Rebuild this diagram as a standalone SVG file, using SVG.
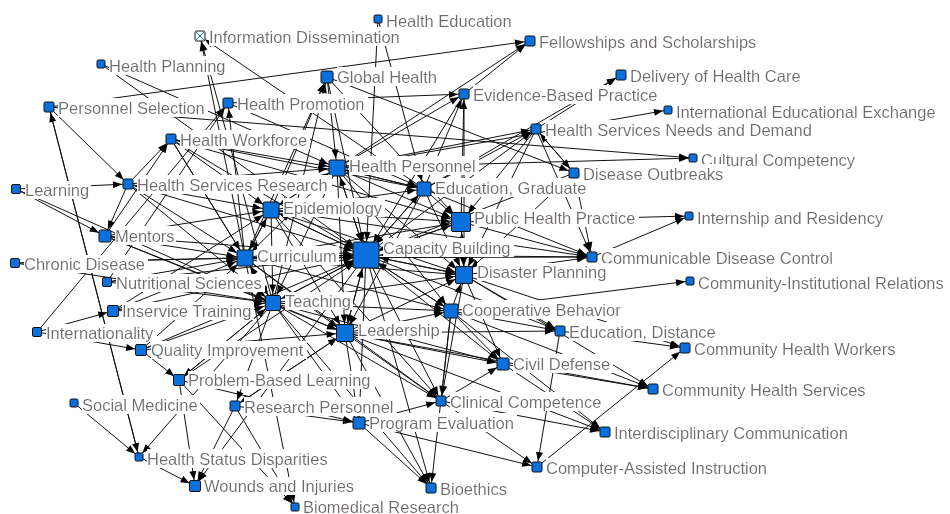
<svg xmlns="http://www.w3.org/2000/svg" width="950" height="514" viewBox="0 0 950 514">
<style>
.bg{fill:#fff}
#edges line{stroke:#111;stroke-width:1;fill:none}
.a8{marker-end:url(#a8)}.a10{marker-end:url(#a10)}.a12{marker-end:url(#a12)}.a14{marker-end:url(#a14)}.a16{marker-end:url(#a16)}.a20{marker-end:url(#a20)}.a26{marker-end:url(#a26)}
.n rect{fill:#0a70dc;stroke:#111;stroke-width:1}
.n text{font-family:"Liberation Sans",Arial,sans-serif;font-size:16.5px;fill:#6f6a6c;filter:url(#lbg)}
</style>
<defs>
<filter id="lbg" x="0" y="0" width="1.02" height="1"><feFlood flood-color="#fff"/><feComposite in="SourceGraphic" operator="over"/></filter>
<marker id="a8" markerUnits="userSpaceOnUse" markerWidth="10" markerHeight="8" refX="14" refY="3.5" orient="auto" style="overflow:visible"><path d="M0,0L9,3.5L0,7z" fill="#000"/></marker>
<marker id="a10" markerUnits="userSpaceOnUse" markerWidth="10" markerHeight="8" refX="15" refY="3.5" orient="auto" style="overflow:visible"><path d="M0,0L9,3.5L0,7z" fill="#000"/></marker>
<marker id="a12" markerUnits="userSpaceOnUse" markerWidth="10" markerHeight="8" refX="16" refY="3.5" orient="auto" style="overflow:visible"><path d="M0,0L9,3.5L0,7z" fill="#000"/></marker>
<marker id="a14" markerUnits="userSpaceOnUse" markerWidth="10" markerHeight="8" refX="17" refY="3.5" orient="auto" style="overflow:visible"><path d="M0,0L9,3.5L0,7z" fill="#000"/></marker>
<marker id="a16" markerUnits="userSpaceOnUse" markerWidth="10" markerHeight="8" refX="18.5" refY="3.5" orient="auto" style="overflow:visible"><path d="M0,0L9,3.5L0,7z" fill="#000"/></marker>
<marker id="a20" markerUnits="userSpaceOnUse" markerWidth="10" markerHeight="8" refX="20" refY="3.5" orient="auto" style="overflow:visible"><path d="M0,0L9,3.5L0,7z" fill="#000"/></marker>
<marker id="a26" markerUnits="userSpaceOnUse" markerWidth="10" markerHeight="8" refX="23" refY="3.5" orient="auto" style="overflow:visible"><path d="M0,0L9,3.5L0,7z" fill="#000"/></marker>
</defs>
<rect class="bg" x="0" y="0" width="950" height="514"/>
<g id="edges">
<line x1="49" y1="107" x2="530" y2="41" class="a10"/>
<line x1="49" y1="107" x2="128" y2="184" class="a10"/>
<line x1="49" y1="107" x2="139" y2="457" class="a8"/>
<line x1="139" y1="457" x2="49" y2="107" class="a10"/>
<line x1="49" y1="107" x2="693" y2="158" class="a8"/>
<line x1="101" y1="64" x2="337" y2="168" class="a16"/>
<line x1="101" y1="64" x2="366" y2="255" class="a26"/>
<line x1="16" y1="189" x2="128" y2="184" class="a10"/>
<line x1="16" y1="189" x2="105" y2="236" class="a12"/>
<line x1="16" y1="189" x2="273" y2="303" class="a16"/>
<line x1="128" y1="184" x2="171" y2="139" class="a10"/>
<line x1="105" y1="236" x2="171" y2="139" class="a10"/>
<line x1="128" y1="184" x2="105" y2="236" class="a12"/>
<line x1="245" y1="258" x2="200" y2="36" class="a10"/>
<line x1="273" y1="303" x2="200" y2="36" class="a10"/>
<line x1="424" y1="189" x2="200" y2="36" class="a10"/>
<line x1="378" y1="19" x2="366" y2="255" class="a26"/>
<line x1="378" y1="19" x2="424" y2="189" class="a14"/>
<line x1="107" y1="282" x2="228" y2="103" class="a10"/>
<line x1="245" y1="258" x2="228" y2="103" class="a10"/>
<line x1="228" y1="103" x2="464" y2="94" class="a10"/>
<line x1="228" y1="103" x2="424" y2="189" class="a14"/>
<line x1="327" y1="77" x2="574" y2="173" class="a10"/>
<line x1="271" y1="210" x2="327" y2="77" class="a12"/>
<line x1="245" y1="258" x2="327" y2="77" class="a12"/>
<line x1="273" y1="303" x2="327" y2="77" class="a12"/>
<line x1="171" y1="139" x2="337" y2="168" class="a16"/>
<line x1="171" y1="139" x2="424" y2="189" class="a14"/>
<line x1="171" y1="139" x2="366" y2="255" class="a26"/>
<line x1="171" y1="139" x2="461" y2="222" class="a20"/>
<line x1="337" y1="168" x2="693" y2="158" class="a8"/>
<line x1="337" y1="168" x2="668" y2="110" class="a8"/>
<line x1="536" y1="129" x2="621" y2="75" class="a10"/>
<line x1="424" y1="189" x2="621" y2="75" class="a10"/>
<line x1="464" y1="94" x2="530" y2="41" class="a10"/>
<line x1="337" y1="168" x2="530" y2="41" class="a10"/>
<line x1="337" y1="168" x2="464" y2="94" class="a10"/>
<line x1="424" y1="189" x2="464" y2="94" class="a10"/>
<line x1="461" y1="222" x2="464" y2="94" class="a10"/>
<line x1="337" y1="168" x2="536" y2="129" class="a10"/>
<line x1="424" y1="189" x2="536" y2="129" class="a10"/>
<line x1="366" y1="255" x2="536" y2="129" class="a10"/>
<line x1="536" y1="129" x2="574" y2="173" class="a10"/>
<line x1="574" y1="173" x2="536" y2="129" class="a10"/>
<line x1="536" y1="129" x2="592" y2="257" class="a10"/>
<line x1="574" y1="173" x2="592" y2="257" class="a10"/>
<line x1="424" y1="189" x2="592" y2="257" class="a10"/>
<line x1="271" y1="210" x2="592" y2="257" class="a10"/>
<line x1="245" y1="258" x2="592" y2="257" class="a10"/>
<line x1="461" y1="222" x2="592" y2="257" class="a10"/>
<line x1="464" y1="275" x2="592" y2="257" class="a10"/>
<line x1="461" y1="222" x2="689" y2="216" class="a8"/>
<line x1="592" y1="257" x2="689" y2="216" class="a8"/>
<line x1="451" y1="311" x2="690" y2="281" class="a8"/>
<line x1="560" y1="331" x2="685" y2="348" class="a10"/>
<line x1="464" y1="275" x2="685" y2="348" class="a10"/>
<line x1="537" y1="467" x2="685" y2="348" class="a10"/>
<line x1="503" y1="364" x2="653" y2="389" class="a10"/>
<line x1="451" y1="311" x2="653" y2="389" class="a10"/>
<line x1="464" y1="275" x2="653" y2="389" class="a10"/>
<line x1="441" y1="401" x2="605" y2="432" class="a10"/>
<line x1="503" y1="364" x2="605" y2="432" class="a10"/>
<line x1="441" y1="401" x2="537" y2="467" class="a10"/>
<line x1="359" y1="423" x2="537" y2="467" class="a10"/>
<line x1="273" y1="303" x2="431" y2="488" class="a10"/>
<line x1="366" y1="255" x2="431" y2="488" class="a10"/>
<line x1="451" y1="311" x2="431" y2="488" class="a10"/>
<line x1="359" y1="423" x2="431" y2="488" class="a10"/>
<line x1="235" y1="406" x2="295" y2="507" class="a8"/>
<line x1="245" y1="258" x2="295" y2="507" class="a8"/>
<line x1="179" y1="380" x2="295" y2="507" class="a8"/>
<line x1="235" y1="406" x2="359" y2="423" class="a12"/>
<line x1="179" y1="380" x2="359" y2="423" class="a12"/>
<line x1="74" y1="403" x2="139" y2="457" class="a8"/>
<line x1="139" y1="457" x2="195" y2="486" class="a10"/>
<line x1="179" y1="380" x2="195" y2="486" class="a10"/>
<line x1="273" y1="303" x2="139" y2="457" class="a8"/>
<line x1="366" y1="255" x2="195" y2="486" class="a10"/>
<line x1="235" y1="406" x2="195" y2="486" class="a10"/>
<line x1="141" y1="350" x2="179" y2="380" class="a10"/>
<line x1="37" y1="332" x2="141" y2="350" class="a10"/>
<line x1="273" y1="303" x2="179" y2="380" class="a10"/>
<line x1="345" y1="333" x2="235" y2="406" class="a10"/>
<line x1="273" y1="303" x2="235" y2="406" class="a10"/>
<line x1="15" y1="263" x2="245" y2="258" class="a16"/>
<line x1="15" y1="263" x2="366" y2="255" class="a26"/>
<line x1="105" y1="236" x2="245" y2="258" class="a16"/>
<line x1="105" y1="236" x2="273" y2="303" class="a16"/>
<line x1="105" y1="236" x2="271" y2="210" class="a16"/>
<line x1="105" y1="236" x2="366" y2="255" class="a26"/>
<line x1="107" y1="282" x2="273" y2="303" class="a16"/>
<line x1="107" y1="282" x2="245" y2="258" class="a16"/>
<line x1="113" y1="311" x2="273" y2="303" class="a16"/>
<line x1="113" y1="311" x2="245" y2="258" class="a16"/>
<line x1="113" y1="311" x2="271" y2="210" class="a16"/>
<line x1="37" y1="332" x2="113" y2="311" class="a10"/>
<line x1="37" y1="332" x2="228" y2="103" class="a10"/>
<line x1="141" y1="350" x2="273" y2="303" class="a16"/>
<line x1="141" y1="350" x2="245" y2="258" class="a16"/>
<line x1="141" y1="350" x2="366" y2="255" class="a26"/>
<line x1="128" y1="184" x2="271" y2="210" class="a16"/>
<line x1="128" y1="184" x2="366" y2="255" class="a26"/>
<line x1="128" y1="184" x2="245" y2="258" class="a16"/>
<line x1="128" y1="184" x2="273" y2="303" class="a16"/>
<line x1="171" y1="139" x2="271" y2="210" class="a16"/>
<line x1="171" y1="139" x2="245" y2="258" class="a16"/>
<line x1="171" y1="139" x2="273" y2="303" class="a16"/>
<line x1="337" y1="168" x2="366" y2="255" class="a26"/>
<line x1="337" y1="168" x2="424" y2="189" class="a14"/>
<line x1="337" y1="168" x2="461" y2="222" class="a20"/>
<line x1="337" y1="168" x2="464" y2="275" class="a16"/>
<line x1="337" y1="168" x2="271" y2="210" class="a16"/>
<line x1="271" y1="210" x2="337" y2="168" class="a16"/>
<line x1="424" y1="189" x2="366" y2="255" class="a26"/>
<line x1="366" y1="255" x2="424" y2="189" class="a14"/>
<line x1="424" y1="189" x2="461" y2="222" class="a20"/>
<line x1="461" y1="222" x2="366" y2="255" class="a26"/>
<line x1="366" y1="255" x2="461" y2="222" class="a20"/>
<line x1="366" y1="255" x2="464" y2="275" class="a16"/>
<line x1="464" y1="275" x2="366" y2="255" class="a26"/>
<line x1="366" y1="255" x2="451" y2="311" class="a14"/>
<line x1="451" y1="311" x2="366" y2="255" class="a26"/>
<line x1="366" y1="255" x2="345" y2="333" class="a16"/>
<line x1="345" y1="333" x2="366" y2="255" class="a26"/>
<line x1="366" y1="255" x2="273" y2="303" class="a16"/>
<line x1="273" y1="303" x2="366" y2="255" class="a26"/>
<line x1="366" y1="255" x2="245" y2="258" class="a16"/>
<line x1="245" y1="258" x2="366" y2="255" class="a26"/>
<line x1="366" y1="255" x2="271" y2="210" class="a16"/>
<line x1="271" y1="210" x2="366" y2="255" class="a26"/>
<line x1="245" y1="258" x2="271" y2="210" class="a16"/>
<line x1="271" y1="210" x2="245" y2="258" class="a16"/>
<line x1="245" y1="258" x2="273" y2="303" class="a16"/>
<line x1="273" y1="303" x2="245" y2="258" class="a16"/>
<line x1="273" y1="303" x2="345" y2="333" class="a16"/>
<line x1="345" y1="333" x2="451" y2="311" class="a14"/>
<line x1="451" y1="311" x2="464" y2="275" class="a16"/>
<line x1="464" y1="275" x2="461" y2="222" class="a20"/>
<line x1="424" y1="189" x2="464" y2="275" class="a16"/>
<line x1="271" y1="210" x2="461" y2="222" class="a20"/>
<line x1="271" y1="210" x2="424" y2="189" class="a14"/>
<line x1="245" y1="258" x2="461" y2="222" class="a20"/>
<line x1="273" y1="303" x2="464" y2="275" class="a16"/>
<line x1="273" y1="303" x2="451" y2="311" class="a14"/>
<line x1="345" y1="333" x2="464" y2="275" class="a16"/>
<line x1="345" y1="333" x2="503" y2="364" class="a12"/>
<line x1="451" y1="311" x2="503" y2="364" class="a12"/>
<line x1="464" y1="275" x2="503" y2="364" class="a12"/>
<line x1="366" y1="255" x2="503" y2="364" class="a12"/>
<line x1="273" y1="303" x2="503" y2="364" class="a12"/>
<line x1="366" y1="255" x2="441" y2="401" class="a10"/>
<line x1="345" y1="333" x2="441" y2="401" class="a10"/>
<line x1="273" y1="303" x2="441" y2="401" class="a10"/>
<line x1="451" y1="311" x2="441" y2="401" class="a10"/>
<line x1="464" y1="275" x2="441" y2="401" class="a10"/>
<line x1="271" y1="210" x2="441" y2="401" class="a10"/>
<line x1="366" y1="255" x2="359" y2="423" class="a12"/>
<line x1="273" y1="303" x2="359" y2="423" class="a12"/>
<line x1="345" y1="333" x2="359" y2="423" class="a12"/>
<line x1="366" y1="255" x2="560" y2="331" class="a10"/>
<line x1="451" y1="311" x2="560" y2="331" class="a10"/>
<line x1="464" y1="275" x2="560" y2="331" class="a10"/>
<line x1="345" y1="333" x2="560" y2="331" class="a10"/>
<line x1="337" y1="168" x2="245" y2="258" class="a16"/>
<line x1="337" y1="168" x2="273" y2="303" class="a16"/>
<line x1="327" y1="77" x2="366" y2="255" class="a26"/>
<line x1="327" y1="77" x2="337" y2="168" class="a16"/>
<line x1="327" y1="77" x2="461" y2="222" class="a20"/>
<line x1="536" y1="129" x2="461" y2="222" class="a20"/>
<line x1="536" y1="129" x2="464" y2="275" class="a16"/>
<line x1="574" y1="173" x2="464" y2="275" class="a16"/>
<line x1="574" y1="173" x2="366" y2="255" class="a26"/>
<line x1="592" y1="257" x2="366" y2="255" class="a26"/>
<line x1="337" y1="168" x2="451" y2="311" class="a14"/>
<line x1="366" y1="255" x2="337" y2="168" class="a16"/>
<line x1="424" y1="189" x2="337" y2="168" class="a16"/>
<line x1="424" y1="189" x2="345" y2="333" class="a16"/>
<line x1="271" y1="210" x2="464" y2="275" class="a16"/>
<line x1="271" y1="210" x2="345" y2="333" class="a16"/>
<line x1="271" y1="210" x2="273" y2="303" class="a16"/>
<line x1="245" y1="258" x2="345" y2="333" class="a16"/>
<line x1="245" y1="258" x2="464" y2="275" class="a16"/>
<line x1="245" y1="258" x2="451" y2="311" class="a14"/>
<line x1="345" y1="333" x2="431" y2="488" class="a10"/>
<line x1="245" y1="258" x2="441" y2="401" class="a10"/>
<line x1="451" y1="311" x2="605" y2="432" class="a10"/>
<line x1="345" y1="333" x2="605" y2="432" class="a10"/>
<line x1="560" y1="331" x2="537" y2="467" class="a10"/>
<line x1="337" y1="168" x2="345" y2="333" class="a16"/>
<line x1="461" y1="222" x2="464" y2="275" class="a16"/>
<line x1="128" y1="184" x2="337" y2="168" class="a16"/>
<line x1="464" y1="94" x2="366" y2="255" class="a26"/>
<line x1="464" y1="94" x2="464" y2="275" class="a16"/>
<line x1="345" y1="333" x2="653" y2="389" class="a10"/>
<line x1="441" y1="401" x2="503" y2="364" class="a12"/>
<line x1="359" y1="423" x2="441" y2="401" class="a10"/>
<line x1="105" y1="236" x2="345" y2="333" class="a16"/>
<line x1="15" y1="263" x2="273" y2="303" class="a16"/>
<line x1="107" y1="282" x2="366" y2="255" class="a26"/>
<line x1="141" y1="350" x2="345" y2="333" class="a16"/>
<line x1="113" y1="311" x2="366" y2="255" class="a26"/>
<line x1="179" y1="380" x2="273" y2="303" class="a16"/>
<line x1="235" y1="406" x2="345" y2="333" class="a16"/>
<line x1="179" y1="380" x2="366" y2="255" class="a26"/>
</g>
<g id="n-ID" class="n"><text x="209" y="42.5">Information Dissemination</text><rect x="195" y="31" width="10" height="10" rx="1.5" style="fill:#fff"/><line x1="196" y1="32" x2="204" y2="40" stroke="#0a70dc"/><line x1="204" y1="32" x2="196" y2="40" stroke="#0a70dc"/></g>
<g id="n-HE" class="n"><text x="386" y="26.5">Health Education</text><rect x="374" y="15" width="8" height="8" rx="1.5"/></g>
<g id="n-FS" class="n"><text x="539" y="47.5">Fellowships and Scholarships</text><rect x="525" y="36" width="10" height="10" rx="1.5"/></g>
<g id="n-HP" class="n"><text x="109" y="71.5">Health Planning</text><rect x="97" y="60" width="8" height="8" rx="1.5"/></g>
<g id="n-GH" class="n"><text x="337" y="82.5">Global Health</text><rect x="321" y="71" width="12" height="12" rx="1.5"/></g>
<g id="n-DHC" class="n"><text x="630" y="81.5">Delivery of Health Care</text><rect x="616" y="70" width="10" height="10" rx="1.5"/></g>
<g id="n-PS" class="n"><text x="58" y="113.5">Personnel Selection</text><rect x="44" y="102" width="10" height="10" rx="1.5"/></g>
<g id="n-HPr" class="n"><text x="237" y="109.5">Health Promotion</text><rect x="223" y="98" width="10" height="10" rx="1.5"/></g>
<g id="n-EBP" class="n"><text x="473" y="100.5">Evidence-Based Practice</text><rect x="459" y="89" width="10" height="10" rx="1.5"/></g>
<g id="n-IEE" class="n"><text x="676" y="117.5">International Educational Exchange</text><rect x="664" y="106" width="8" height="8" rx="1.5"/></g>
<g id="n-HW" class="n"><text x="180" y="145.5">Health Workforce</text><rect x="166" y="134" width="10" height="10" rx="1.5"/></g>
<g id="n-HSND" class="n"><text x="545" y="135.5">Health Services Needs and Demand</text><rect x="531" y="124" width="10" height="10" rx="1.5"/></g>
<g id="n-HPe" class="n"><text x="349" y="171.5">Health Personnel</text><rect x="329" y="160" width="16" height="16" rx="1.5"/></g>
<g id="n-CC" class="n"><text x="701" y="165.5">Cultural Competency</text><rect x="689" y="154" width="8" height="8" rx="1.5"/></g>
<g id="n-L" class="n"><text x="25" y="196">Learning</text><rect x="11.5" y="184.5" width="9" height="9" rx="1.5"/></g>
<g id="n-HSR" class="n"><text x="137" y="190.5">Health Services Research</text><rect x="123" y="179" width="10" height="10" rx="1.5"/></g>
<g id="n-EG" class="n"><text x="435" y="193.5">Education, Graduate</text><rect x="417" y="182" width="14" height="14" rx="1.5"/></g>
<g id="n-DO" class="n"><text x="583" y="179.5">Disease Outbreaks</text><rect x="569" y="168" width="10" height="10" rx="1.5"/></g>
<g id="n-Ep" class="n"><text x="283" y="213.5">Epidemiology</text><rect x="263" y="202" width="16" height="16" rx="1.5"/></g>
<g id="n-PHP" class="n"><text x="474" y="224">Public Health Practice</text><rect x="451.5" y="212.5" width="19" height="19" rx="1.5"/></g>
<g id="n-IR" class="n"><text x="697" y="223.5">Internship and Residency</text><rect x="685" y="212" width="8" height="8" rx="1.5"/></g>
<g id="n-M" class="n"><text x="115" y="241.5">Mentors</text><rect x="99" y="230" width="12" height="12" rx="1.5"/></g>
<g id="n-CB" class="n"><text x="383" y="253.5">Capacity Building</text><rect x="353" y="242" width="26" height="26" rx="2"/></g>
<g id="n-Cu" class="n"><text x="257" y="261.5">Curriculum</text><rect x="237" y="250" width="16" height="16" rx="1.5"/></g>
<g id="n-CDC" class="n"><text x="601" y="263.5">Communicable Disease Control</text><rect x="587" y="252" width="10" height="10" rx="1.5"/></g>
<g id="n-ChD" class="n"><text x="24" y="270">Chronic Disease</text><rect x="10.5" y="258.5" width="9" height="9" rx="1.5"/></g>
<g id="n-DP" class="n"><text x="477" y="278">Disaster Planning</text><rect x="455.5" y="266.5" width="17" height="17" rx="1.5"/></g>
<g id="n-NS" class="n"><text x="116" y="289">Nutritional Sciences</text><rect x="102.5" y="277.5" width="9" height="9" rx="1.5"/></g>
<g id="n-CIR" class="n"><text x="698" y="288.5">Community-Institutional Relations</text><rect x="686" y="277" width="8" height="8" rx="1.5"/></g>
<g id="n-T" class="n"><text x="285" y="307">Teaching</text><rect x="265.5" y="295.5" width="15" height="15" rx="1.5"/></g>
<g id="n-IT" class="n"><text x="122" y="317">Inservice Training</text><rect x="107.5" y="305.5" width="11" height="11" rx="1.5"/></g>
<g id="n-CoB" class="n"><text x="462" y="315.5">Cooperative Behavior</text><rect x="444" y="304" width="14" height="14" rx="1.5"/></g>
<g id="n-In" class="n"><text x="46" y="339">Internationality</text><rect x="32.5" y="327.5" width="9" height="9" rx="1.5"/></g>
<g id="n-Le" class="n"><text x="358" y="336">Leadership</text><rect x="336.5" y="324.5" width="17" height="17" rx="1.5"/></g>
<g id="n-ED" class="n"><text x="569" y="337.5">Education, Distance</text><rect x="555" y="326" width="10" height="10" rx="1.5"/></g>
<g id="n-QI" class="n"><text x="151" y="356">Quality Improvement</text><rect x="135.5" y="344.5" width="11" height="11" rx="1.5"/></g>
<g id="n-CHW" class="n"><text x="694" y="354.5">Community Health Workers</text><rect x="680" y="343" width="10" height="10" rx="1.5"/></g>
<g id="n-CD" class="n"><text x="513" y="369.5">Civil Defense</text><rect x="497" y="358" width="12" height="12" rx="1.5"/></g>
<g id="n-PBL" class="n"><text x="188" y="386">Problem-Based Learning</text><rect x="173.5" y="374.5" width="11" height="11" rx="1.5"/></g>
<g id="n-CHS" class="n"><text x="662" y="395.5">Community Health Services</text><rect x="648" y="384" width="10" height="10" rx="1.5"/></g>
<g id="n-SM" class="n"><text x="82" y="410.5">Social Medicine</text><rect x="70" y="399" width="8" height="8" rx="1.5"/></g>
<g id="n-RP" class="n"><text x="244" y="412.5">Research Personnel</text><rect x="230" y="401" width="10" height="10" rx="1.5"/></g>
<g id="n-ClC" class="n"><text x="450" y="407.5">Clinical Competence</text><rect x="436" y="396" width="10" height="10" rx="1.5"/></g>
<g id="n-PE" class="n"><text x="369" y="428.5">Program Evaluation</text><rect x="353" y="417" width="12" height="12" rx="1.5"/></g>
<g id="n-IC" class="n"><text x="614" y="438.5">Interdisciplinary Communication</text><rect x="600" y="427" width="10" height="10" rx="1.5"/></g>
<g id="n-HSD" class="n"><text x="147" y="464.5">Health Status Disparities</text><rect x="135" y="453" width="8" height="8" rx="1.5"/></g>
<g id="n-CAI" class="n"><text x="546" y="473.5">Computer-Assisted Instruction</text><rect x="532" y="462" width="10" height="10" rx="1.5"/></g>
<g id="n-WI" class="n"><text x="204" y="492">Wounds and Injuries</text><rect x="189.5" y="480.5" width="11" height="11" rx="1.5"/></g>
<g id="n-Bi" class="n"><text x="440" y="494.5">Bioethics</text><rect x="426" y="483" width="10" height="10" rx="1.5"/></g>
<g id="n-BR" class="n"><text x="303" y="512.5">Biomedical Research</text><rect x="291" y="503" width="8" height="8" rx="1.5"/></g>
</svg>
